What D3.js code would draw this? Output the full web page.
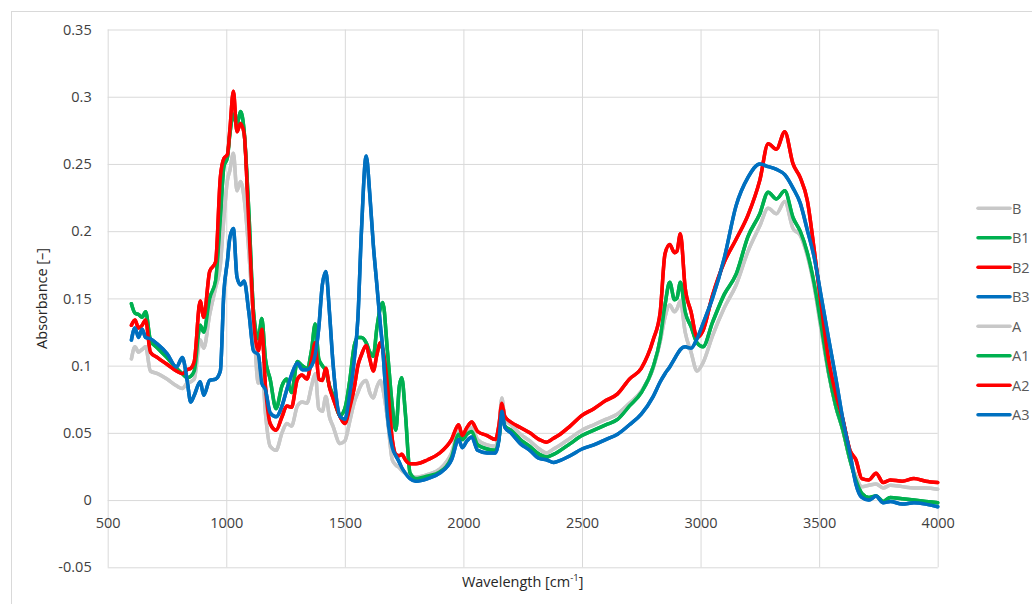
<!DOCTYPE html>
<html>
<head>
<meta charset="utf-8">
<script src="https://cdn.jsdelivr.net/npm/d3@7"></script>
<style>
  body { margin: 0; background: #ffffff; }
  text { font-family: "Open Sans", sans-serif; }
</style>
</head>
<body>
<div class="layout"></div>
<script>

// wavenumbers shared by all the spectra
var wavenumbers = [600, 615, 630, 645, 660, 680, 710, 750, 790, 815, 835, 850, 865, 890, 905, 930, 955, 975, 990, 1005,
  1015, 1030, 1045, 1060, 1075, 1095, 1115, 1135, 1150, 1165, 1185, 1210, 1235, 1255, 1275, 1300, 1320, 1340, 1360, 1375,
  1390, 1405, 1420, 1435, 1450, 1480, 1500, 1520, 1540, 1555, 1570, 1590, 1605, 1620, 1635, 1650, 1660, 1680, 1700, 1715,
  1730, 1740, 1755, 1775, 1800, 1850, 1900, 1950, 1980, 1995, 2015, 2035, 2060, 2100, 2135, 2150, 2162, 2175, 2200, 2240,
  2280, 2320, 2350, 2380, 2400, 2450, 2500, 2550, 2600, 2650, 2700, 2750, 2800, 2830, 2850, 2870, 2890, 2900, 2915, 2935,
  2960, 2985, 3010, 3050, 3100, 3150, 3200, 3250, 3285, 3320, 3355, 3390, 3420, 3450, 3480, 3510, 3540, 3570, 3600, 3630,
  3655, 3680, 3710, 3740, 3770, 3800, 3850, 3900, 3950, 4000];

// absorbance values
var valuesB = [0.105, 0.114, 0.110, 0.112, 0.114, 0.096, 0.094, 0.090, 0.085, 0.083, 0.087, 0.088, 0.090, 0.119, 0.113, 0.138, 0.158, 0.175, 0.210, 0.238,
  0.245, 0.258, 0.230, 0.237, 0.225, 0.185, 0.135, 0.087, 0.101, 0.065, 0.040, 0.037, 0.050, 0.057, 0.055, 0.070, 0.073, 0.072, 0.085, 0.094,
  0.068, 0.066, 0.077, 0.062, 0.055, 0.042, 0.044, 0.058, 0.073, 0.080, 0.086, 0.089, 0.080, 0.076, 0.084, 0.089, 0.083, 0.060, 0.030, 0.026,
  0.024, 0.022, 0.020, 0.018, 0.017, 0.019, 0.023, 0.035, 0.051, 0.047, 0.051, 0.054, 0.045, 0.041, 0.040, 0.052, 0.076, 0.060, 0.056, 0.049,
  0.044, 0.038, 0.035, 0.038, 0.040, 0.046, 0.052, 0.056, 0.060, 0.064, 0.072, 0.081, 0.098, 0.118, 0.136, 0.145, 0.140, 0.142, 0.148, 0.125,
  0.110, 0.096, 0.102, 0.122, 0.143, 0.160, 0.185, 0.204, 0.217, 0.213, 0.222, 0.202, 0.197, 0.182, 0.158, 0.125, 0.094, 0.070, 0.052, 0.030,
  0.018, 0.010, 0.011, 0.012, 0.009, 0.011, 0.010, 0.009, 0.009, 0.008];

var valuesB1 = [0.146, 0.139, 0.138, 0.136, 0.140, 0.119, 0.113, 0.106, 0.098, 0.094, 0.091, 0.092, 0.096, 0.130, 0.125, 0.150, 0.163, 0.210, 0.248, 0.255,
  0.272, 0.287, 0.279, 0.289, 0.275, 0.215, 0.140, 0.120, 0.135, 0.105, 0.090, 0.068, 0.085, 0.090, 0.080, 0.103, 0.100, 0.098, 0.112, 0.131,
  0.105, 0.100, 0.096, 0.085, 0.078, 0.063, 0.068, 0.088, 0.115, 0.121, 0.121, 0.117, 0.110, 0.107, 0.128, 0.143, 0.147, 0.110, 0.070, 0.052,
  0.085, 0.091, 0.065, 0.020, 0.016, 0.018, 0.021, 0.032, 0.049, 0.045, 0.049, 0.051, 0.041, 0.038, 0.037, 0.046, 0.064, 0.055, 0.052, 0.045,
  0.040, 0.034, 0.032, 0.034, 0.036, 0.042, 0.048, 0.052, 0.056, 0.060, 0.070, 0.080, 0.099, 0.120, 0.145, 0.162, 0.149, 0.150, 0.162, 0.140,
  0.129, 0.117, 0.114, 0.132, 0.153, 0.168, 0.196, 0.213, 0.229, 0.224, 0.230, 0.210, 0.200, 0.184, 0.160, 0.128, 0.095, 0.070, 0.052, 0.030,
  0.015, 0.005, 0.002, 0.003, -0.001, 0.002, 0.001, 0.000, -0.001, -0.002];

var valuesB2 = [0.130, 0.134, 0.128, 0.130, 0.134, 0.110, 0.106, 0.101, 0.096, 0.094, 0.097, 0.098, 0.103, 0.148, 0.136, 0.170, 0.177, 0.240, 0.254, 0.257,
  0.275, 0.304, 0.274, 0.280, 0.273, 0.205, 0.135, 0.111, 0.127, 0.085, 0.057, 0.052, 0.062, 0.070, 0.069, 0.090, 0.093, 0.090, 0.105, 0.117,
  0.090, 0.089, 0.098, 0.084, 0.076, 0.062, 0.057, 0.068, 0.084, 0.100, 0.108, 0.115, 0.105, 0.096, 0.108, 0.117, 0.112, 0.085, 0.045, 0.034,
  0.033, 0.034, 0.030, 0.027, 0.027, 0.030, 0.035, 0.045, 0.056, 0.048, 0.054, 0.058, 0.051, 0.048, 0.045, 0.056, 0.072, 0.062, 0.058, 0.054,
  0.050, 0.045, 0.043, 0.046, 0.048, 0.055, 0.063, 0.068, 0.074, 0.079, 0.090, 0.098, 0.119, 0.140, 0.183, 0.190, 0.184, 0.185, 0.198, 0.158,
  0.140, 0.121, 0.126, 0.152, 0.177, 0.194, 0.212, 0.238, 0.265, 0.261, 0.274, 0.250, 0.240, 0.223, 0.185, 0.143, 0.104, 0.079, 0.060, 0.037,
  0.030, 0.016, 0.015, 0.020, 0.013, 0.015, 0.014, 0.016, 0.014, 0.013];

var valuesB3 = [0.119, 0.128, 0.121, 0.127, 0.121, 0.120, 0.116, 0.109, 0.099, 0.106, 0.089, 0.073, 0.078, 0.088, 0.078, 0.089, 0.090, 0.096, 0.155, 0.178,
  0.195, 0.202, 0.166, 0.160, 0.163, 0.140, 0.111, 0.108, 0.087, 0.082, 0.065, 0.062, 0.070, 0.082, 0.093, 0.102, 0.097, 0.097, 0.100, 0.108,
  0.128, 0.160, 0.170, 0.140, 0.102, 0.062, 0.060, 0.078, 0.105, 0.135, 0.200, 0.256, 0.228, 0.190, 0.160, 0.130, 0.112, 0.062, 0.039, 0.033,
  0.028, 0.024, 0.020, 0.016, 0.014, 0.016, 0.020, 0.030, 0.045, 0.039, 0.044, 0.047, 0.037, 0.035, 0.035, 0.045, 0.066, 0.054, 0.050, 0.042,
  0.037, 0.031, 0.030, 0.028, 0.029, 0.033, 0.038, 0.041, 0.045, 0.049, 0.056, 0.064, 0.077, 0.088, 0.094, 0.099, 0.105, 0.108, 0.112, 0.114,
  0.113, 0.120, 0.131, 0.150, 0.180, 0.219, 0.240, 0.250, 0.248, 0.246, 0.242, 0.232, 0.221, 0.201, 0.180, 0.150, 0.120, 0.091, 0.060, 0.035,
  0.012, 0.002, 0.000, 0.003, -0.002, -0.001, -0.003, -0.002, -0.003, -0.005];

// the A samples lie exactly on top of the B samples
var valuesA = valuesB.slice();
var valuesA1 = valuesB1.slice();
var valuesA2 = valuesB2.slice();
var valuesA3 = valuesB3.slice();

var seriesNames = ["B", "B1", "B2", "B3", "A", "A1", "A2", "A3"];
var seriesValues = [valuesB, valuesB1, valuesB2, valuesB3, valuesA, valuesA1, valuesA2, valuesA3];
var seriesColors = ["#c8c8c8", "#00b050", "#ff0000", "#0070c0", "#c8c8c8", "#00b050", "#ff0000", "#0070c0"];

var xTicks = [500, 1000, 1500, 2000, 2500, 3000, 3500, 4000];
var yTicks = [-0.05, 0, 0.05, 0.1, 0.15, 0.2, 0.25, 0.3, 0.35];

// plot area in pixels
var plotLeft = 107.7, plotRight = 937.7, plotTop = 29.5, plotBottom = 567.3;

var svg = d3.select("div.layout")
  .append("svg")
  .attr("width", 1032)
  .attr("height", 604)
  .style("display", "block");

// outer chart border
svg.append("rect")
  .attr("x", 11.5)
  .attr("y", 11.5)
  .attr("width", 1030)
  .attr("height", 610)
  .attr("fill", "none")
  .attr("stroke", "#d9d9d9");

var x = d3.scaleLinear().domain([500, 4000]).range([plotLeft, plotRight]);
var y = d3.scaleLinear().domain([-0.05, 0.35]).range([plotBottom, plotTop]);

// vertical gridlines
svg.append("g")
  .attr("class", "xGrid")
  .attr("transform", "translate(0," + plotBottom + ")")
  .call(d3.axisBottom(x).tickValues(xTicks).tickSize(-(plotBottom - plotTop)).tickFormat(""))
  .call(function (g) { g.select(".domain").remove(); });

// horizontal gridlines with the y labels
svg.append("g")
  .attr("class", "yAxis")
  .attr("transform", "translate(" + plotLeft + ",0)")
  .call(d3.axisLeft(y).tickValues(yTicks).tickSize(-(plotRight - plotLeft)).tickPadding(16)
    .tickFormat(function (d) { return String(+d.toFixed(2)); }))
  .call(function (g) { g.select(".domain").remove(); });

svg.selectAll(".xGrid line, .yAxis line")
  .attr("stroke", "#d9d9d9")
  .attr("stroke-width", 1);

// x labels sit under the zero line
svg.append("g")
  .attr("class", "xAxis")
  .attr("transform", "translate(0," + y(0) + ")")
  .call(d3.axisBottom(x).tickValues(xTicks).tickSize(0).tickPadding(18).tickFormat(d3.format("d")))
  .call(function (g) { g.select(".domain").remove(); });

svg.selectAll(".xAxis text, .yAxis text")
  .attr("font-family", "Open Sans, sans-serif")
  .attr("font-size", "14.5px")
  .attr("fill", "#404040");

// the spectra
var line = d3.line()
  .x(function (d, i) { return x(wavenumbers[i]); })
  .y(function (d) { return y(d); })
  .curve(d3.curveMonotoneX);

svg.selectAll("path.spectrum")
  .data(seriesValues)
  .enter()
  .append("path")
  .attr("class", "spectrum")
  .attr("fill", "none")
  .attr("stroke", function (d, i) { return seriesColors[i]; })
  .attr("stroke-width", 3.5)
  .attr("stroke-linejoin", "round")
  .attr("stroke-linecap", "round")
  .attr("d", line);

// axis titles
svg.append("text")
  .attr("transform", "translate(42," + ((plotTop + plotBottom) / 2) + ") rotate(-90)")
  .attr("text-anchor", "middle")
  .attr("dy", "0.35em")
  .attr("font-size", "14.5px")
  .attr("fill", "#262626")
  .text("Absorbance [\u2013]");

var xTitle = svg.append("text")
  .attr("x", (plotLeft + plotRight) / 2)
  .attr("y", 587)
  .attr("text-anchor", "middle")
  .attr("font-size", "14.5px")
  .attr("fill", "#262626");
xTitle.append("tspan").text("Wavelength [cm");
xTitle.append("tspan").attr("font-size", "9.5px").attr("dy", "-6").text("-1");
xTitle.append("tspan").attr("dy", "6").text("]");

// legend
var legend = svg.selectAll("g.legend")
  .data(seriesNames)
  .enter()
  .append("g")
  .attr("class", "legend")
  .attr("transform", function (d, i) { return "translate(978," + (208.3 + i * 29.5) + ")"; });

legend.append("line")
  .attr("x1", 0)
  .attr("x2", 32)
  .attr("stroke", function (d, i) { return seriesColors[i]; })
  .attr("stroke-width", 3.5)
  .attr("stroke-linecap", "round");

legend.append("text")
  .attr("x", 34)
  .attr("dy", "0.36em")
  .attr("font-size", "14.5px")
  .attr("fill", "#595959")
  .text(function (d) { return d; });

</script>
</body>
</html>
